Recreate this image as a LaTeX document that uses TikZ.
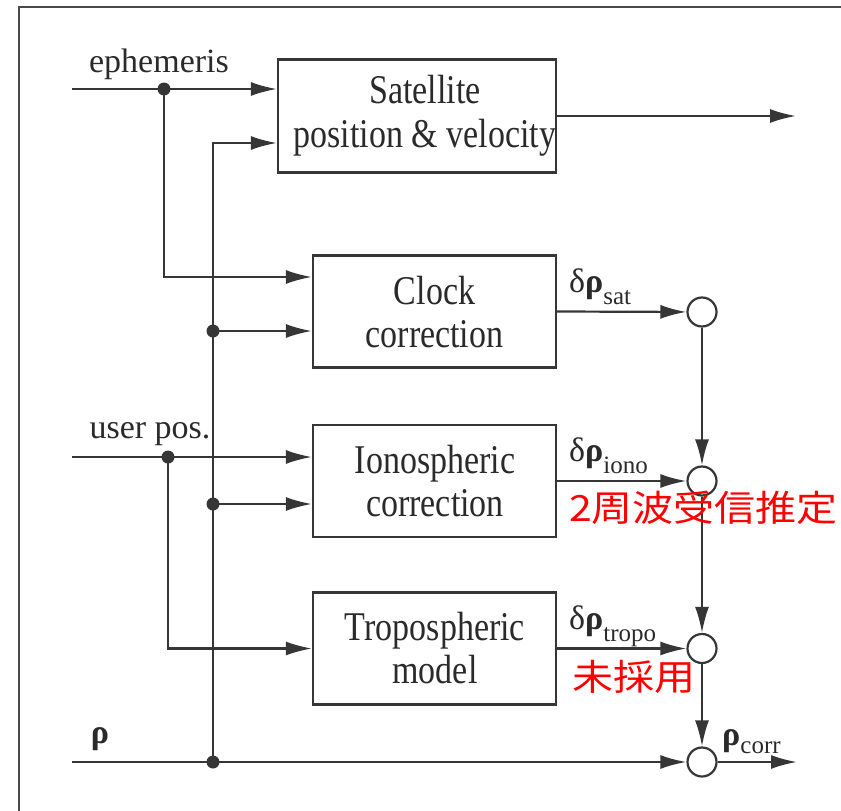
\documentclass[tikz,border=0pt]{standalone}
\usepackage{graphicx}
\usepackage{fontspec}
\setmainfont{Liberation Serif}
\newfontfamily\cjk{Noto Sans CJK JP}
\usetikzlibrary{arrows.meta}
\definecolor{lc}{HTML}{363636}
\definecolor{tc}{HTML}{2A2A2A}
\definecolor{fc}{HTML}{4A4A4A}
\newcommand{\boxfont}{\fontsize{34}{42}\selectfont}
\newcommand{\subf}{\fontsize{25}{25}\selectfont}
\newcommand{\st}[1]{\scalebox{1}[1.2]{#1}}
\newcommand{\dl}[1]{δ\textbf{ρ}\raisebox{-0.36em}{\subf #1}}
\newcommand{\rt}[1]{\scalebox{1}[0.88]{#1}}
\tikzset{
  ln/.style={draw=lc, line width=2.2pt},
  arr/.style={ln, -{Latex[length=26pt,width=14pt]}},
  blk/.style={draw=lc, line width=2.2pt, minimum width=243pt, minimum height=112pt,
    inner sep=0pt},
  boxt/.style={font=\boxfont, text=tc, inner sep=0pt, anchor=base},
  sumc/.style={circle, draw=lc, line width=2.2pt, minimum size=29pt, inner sep=0pt, fill=white},
  lbl/.style={font=\boxfont, text=tc, inner sep=0pt},
  redt/.style={font=\cjk\fontsize{41}{41}\selectfont, text=red, inner sep=0pt, anchor=west},
}
\begin{document}
\begin{tikzpicture}[x=1pt, y=-1pt]
\useasboundingbox (0,0) rectangle (841,811);
% frame
\draw[fc, line width=2pt] (19,811) -- (19,7) -- (841,7);

% blocks
\node[blk, minimum width=278pt, minimum height=113pt] (sat) at (417,116) {};
\node[blk] (clock) at (434.5,311.5) {};
\node[blk] (iono) at (434.5,481) {};
\node[blk] (tropo) at (434.5,648.5) {};

% block texts
\node[boxt] (satT1) at (425,103) {\st{Satellite}};
\node[boxt] (satT2) at (425,147) {\st{position \& velocity}};
\node[boxt] (clockT1) at (434.5,304) {\st{Clock}};
\node[boxt] (clockT2) at (434.5,347) {\st{correction}};
\node[boxt] (ionoT1) at (435,473) {\st{Ionospheric}};
\node[boxt] (ionoT2) at (435,516) {\st{correction}};
\node[boxt] (tropoT1) at (435,640) {\st{Tropospheric}};
\node[boxt] (tropoT2) at (435,683) {\st{model}};

% summing circles
\node[sumc] (c1) at (702,312) {};
\node[sumc] (c2) at (702,481) {};
\node[sumc] (c3) at (702,648.5) {};
\node[sumc] (c4) at (702,762) {};

% coordinates
\coordinate (eIn) at (72,89);
\coordinate (eDot) at (164,89);
\coordinate (uIn) at (72,457);
\coordinate (uDot) at (168,457);
\coordinate (rIn) at (72,762);
\coordinate (rDot) at (213,762);
\coordinate (bus1) at (213,331);
\coordinate (bus2) at (213,504);
\coordinate (satOut) at (796,116);
\coordinate (corrOut) at (797,762);

% connectors
\draw[arr] (eIn) -- ([yshift=27pt]sat.west);
\draw[arr] (rDot) |- ([yshift=-27pt]sat.west);
\draw[arr] (sat.east) -- (satOut);
\draw[arr] (eDot) |- ([yshift=34.5pt]clock.west);
\draw[arr] (bus1) -- ([yshift=-19.5pt]clock.west);
\draw[arr] (uIn) -- ([yshift=24pt]iono.west);
\draw[arr] (bus2) -- ([yshift=-23pt]iono.west);
\draw[arr] (uDot) |- (tropo.west);
\draw[arr] (rIn) -- (c4);
\draw[arr] (clock.east) -- (c1);
\draw[arr] (iono.east) -- (c2);
\draw[arr] (tropo.east) -- (c3);
\draw[arr] (c1) -- (c2);
\draw[arr] (c2) -- (c3);
\draw[arr] (c3) -- (c4);
\draw[arr] (c4) -- (corrOut);

% junction dots
\foreach \p in {eDot,uDot,rDot,bus1,bus2} \fill[lc] (\p) circle (6.5pt);

% labels
\node[lbl, anchor=base] (ephL) at (159,72) {ephemeris};
\node[lbl, anchor=base] (userL) at (150,438) {user pos.};
\node[lbl, anchor=base] (rhoL) at (100,743) {\textbf{ρ}};
\node[lbl, anchor=base west] (dsat) at (569,292) {\dl{sat}};
\node[lbl, anchor=base west] (diono) at (569,461) {\dl{iono}};
\node[lbl, anchor=base west] (dtropo) at (569,629) {\dl{tropo}};
\node[lbl, anchor=base west] (corrL) at (722,745) {\textbf{ρ}\raisebox{-0.24em}{\subf corr}};

% red annotations
\node[redt] (note1) at (569,507.5) {\rt{2周波受信推定}};
\node[redt] (note2) at (572,677) {\rt{未採用}};
\end{tikzpicture}
\end{document}
